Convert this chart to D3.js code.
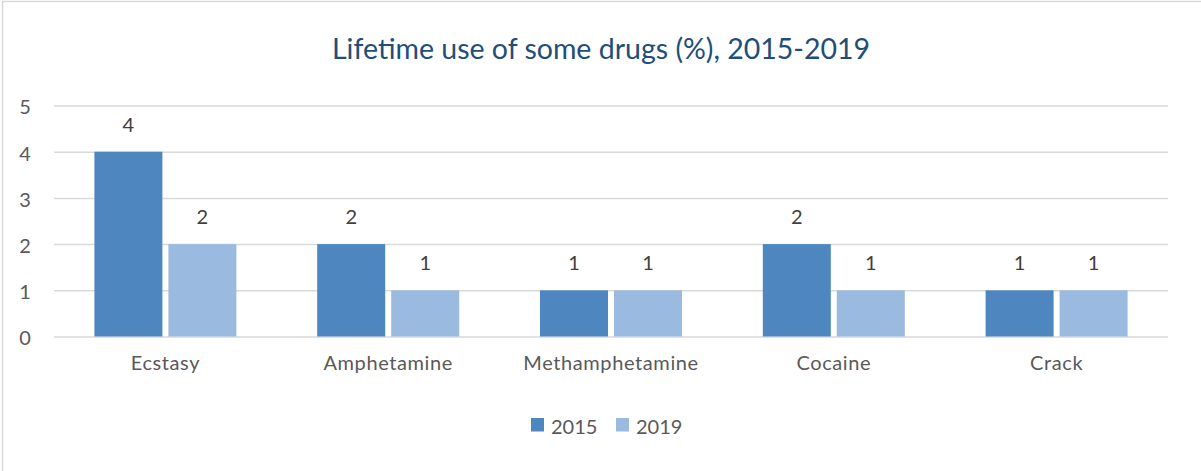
<!DOCTYPE html>
<html>
<head>
<meta charset="utf-8">
<script src="https://cdn.jsdelivr.net/npm/d3@7"></script>
<style>
  html, body { margin: 0; padding: 0; background: #fff; }
  svg { display: block; font-family: Lato, "Open Sans", sans-serif; }
</style>
</head>
<body>
<svg id="chart" width="1201" height="471"></svg>
<script>
// Lifetime use of some drugs (%), 2015 vs 2019
const categories = ["Ecstasy", "Amphetamine", "Methamphetamine", "Cocaine", "Crack"];
const seriesNames = ["2015", "2019"];
const values2015 = [4, 2, 1, 2, 1];
const values2019 = [2, 1, 1, 1, 1];
const yTicks = [0, 1, 2, 3, 4, 5];
const colors = ["#4e87bf", "#9bbae0"];

const svg = d3.select("#chart");
const W = 1201, H = 471;
const plot = { left: 54, right: 1168, top: 105.5, bottom: 336.5 };

// frame edges
svg.append("line").attr("x1", 2.5).attr("x2", 2.5).attr("y1", 1).attr("y2", H)
  .attr("stroke", "#d9d9d9").attr("stroke-width", 1.5);
svg.append("line").attr("x1", 2).attr("x2", W).attr("y1", 1.5).attr("y2", 1.5)
  .attr("stroke", "#d9d9d9").attr("stroke-width", 1.5);

// title
svg.append("text")
  .attr("x", 601).attr("y", 58.5)
  .attr("text-anchor", "middle")
  .attr("fill", "#1f4e79")
  .attr("font-size", 28.5)
  .text("Lifetime use of some drugs (%), 2015-2019");

const x = d3.scaleBand().domain(categories).range([plot.left, plot.right]);
const y = d3.scaleLinear().domain([0, 5]).range([plot.bottom, plot.top]);

const barW = 68, gap = 6;
const groupW = barW * 2 + gap;
const xs = d3.scaleOrdinal().domain(seriesNames).range([0, barW + gap]);

// gridlines and y tick labels
const yAxis = d3.axisLeft(y).tickValues(yTicks).tickFormat(d3.format("d"))
  .tickSize(-(plot.right - plot.left));
const gy = svg.append("g").attr("transform", `translate(${plot.left},0)`).call(yAxis);
gy.select(".domain").remove();
gy.selectAll(".tick line").attr("stroke", "#d9d9d9").attr("stroke-width", 1.5);
gy.selectAll(".tick text").attr("fill", "#595959").attr("font-size", 20)
  .attr("font-family", "Lato, sans-serif")
  .attr("x", -29).attr("dy", "0.42em").attr("text-anchor", "middle");

// x axis labels
const xAxis = d3.axisBottom(x).tickSize(0);
const gx = svg.append("g").attr("transform", `translate(0,${plot.bottom})`).call(xAxis);
gx.select(".domain").remove();
gx.selectAll(".tick text").attr("fill", "#595959").attr("font-size", 20)
  .attr("font-family", "Lato, sans-serif")
  .attr("letter-spacing", 0.6)
  .attr("y", 33).attr("dy", 0);

// bars
const series = [values2015, values2019];
const rows = [];
categories.forEach((c, i) => {
  seriesNames.forEach((s, j) => rows.push({ cat: c, s, j, v: series[j][i] }));
});
const groupOffset = (x.bandwidth() - groupW) / 2;

svg.append("g").selectAll("rect").data(rows).join("rect")
  .attr("x", d => x(d.cat) + groupOffset + xs(d.s))
  .attr("width", barW)
  .attr("y", d => y(d.v))
  .attr("height", d => y(0) - y(d.v))
  .attr("fill", d => colors[d.j]);

// value labels
svg.append("g").selectAll("text").data(rows).join("text")
  .attr("x", d => x(d.cat) + groupOffset + xs(d.s) + barW / 2)
  .attr("y", d => y(d.v) - 20)
  .attr("text-anchor", "middle")
  .attr("fill", "#404040")
  .attr("font-size", 20)
  .text(d => d.v);

// legend
const legend = svg.append("g").attr("transform", "translate(531,418)");
const legItems = legend.selectAll("g").data(seriesNames).join("g")
  .attr("transform", (d, i) => `translate(${i * 85},0)`);
legItems.append("rect").attr("width", 13).attr("height", 13.5)
  .attr("fill", (d, i) => colors[i]);
legItems.append("text").attr("x", 20).attr("y", 15.5)
  .attr("fill", "#595959").attr("font-size", 20).text(d => d);
</script>
</body>
</html>
